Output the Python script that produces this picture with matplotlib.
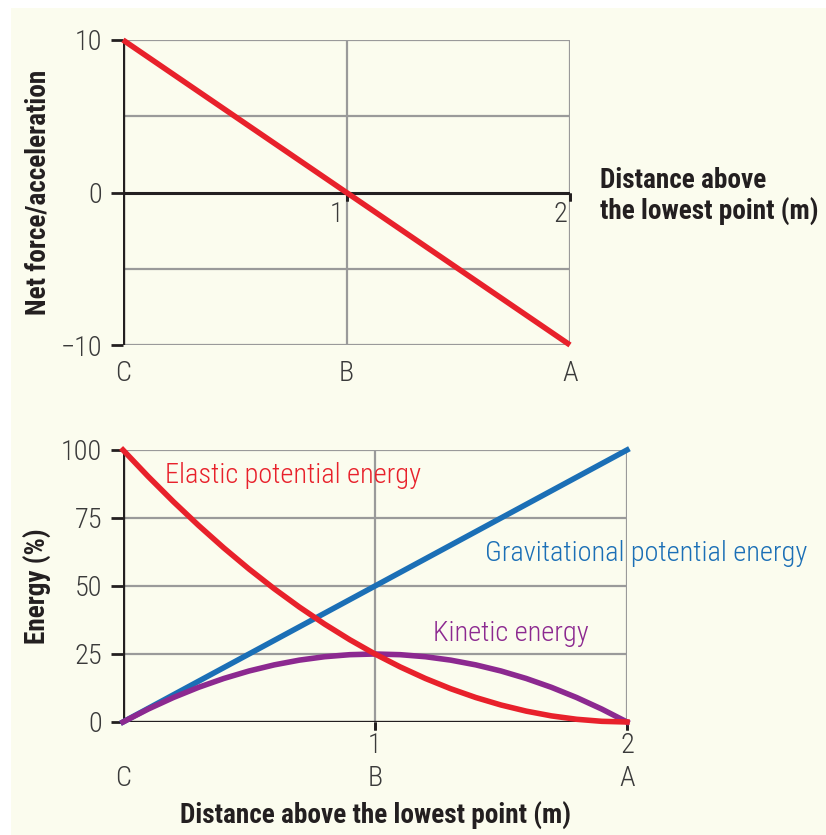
import matplotlib
matplotlib.use("Agg")
import matplotlib.pyplot as plt
from matplotlib import font_manager
from matplotlib.patches import Rectangle

# ---- data ----
# top panel: net force / acceleration vs distance above lowest point
force_x = [0, 2]
force_y = [10, -10]
force_yticks = [10, 0, -10]
force_ytick_labels = ['10', '0', '\u221210']
force_grid_y = [5, -5, -10, 10]

# bottom panel: energy shares (%) vs distance
dist = [0.0, 0.1, 0.2, 0.3, 0.4, 0.5, 0.6, 0.7, 0.8, 0.9, 1.0,
        1.1, 1.2, 1.3, 1.4, 1.5, 1.6, 1.7, 1.8, 1.9, 2.0]
elastic = [100, 90.25, 81, 72.25, 64, 56.25, 49, 42.25, 36, 30.25, 25,
           20.25, 16, 12.25, 9, 6.25, 4, 2.25, 1, 0.25, 0]
kinetic = [0, 4.75, 9, 12.75, 16, 18.75, 21, 22.75, 24, 24.75, 25,
           24.75, 24, 22.75, 21, 18.75, 16, 12.75, 9, 4.75, 0]
grav_x = [0, 2]
grav_y = [0, 100]
energy_yticks = [0, 25, 50, 75, 100]

x_ticks = [1, 2]
point_pos = [0, 1, 2]
point_names = ['C', 'B', 'A']

# ---- fonts: prefer a narrow sans if one is installed ----
names = {f.name for f in font_manager.fontManager.ttflist}
family = 'Liberation Sans' if 'Liberation Sans' in names else 'DejaVu Sans'
for cand in ['Liberation Sans Narrow', 'Roboto Condensed', 'Arial Narrow']:
    if cand in names:
        family = cand
        break
plt.rcParams['font.family'] = [family, 'DejaVu Sans']

# ---- style ----
BG = '#fbfcee'
RED = '#e8212b'
BLUE = '#1b6fb6'
PURPLE = '#8c2990'
GRID = '#9a9a9a'
INK = '#231f20'
TICK_TXT = '#3a3a3a'
LW = 4.0
TXT_W = 'light'

fig = plt.figure(figsize=(8.26, 8.35), dpi=100)
fig.patch.set_facecolor('white')
fig.add_artist(Rectangle((11 / 826, 0), 1 - 11 / 826, 1 - 8 / 835,
                         transform=fig.transFigure, facecolor=BG,
                         edgecolor='none', zorder=-10))

# size text so that the long labels have the intended widths
renderer = fig.canvas.get_renderer()


def fit_size(s, width_px, weight='normal', base=18):
    t = fig.text(0, 0, s, fontsize=base, fontweight=weight)
    w = t.get_window_extent(renderer).width
    t.remove()
    return base * width_px / w


tick_fs = min(22, fit_size('Gravitational potential energy', 323, TXT_W))
lab_fs = min(20, fit_size('Distance above the lowest point (m)', 391, 'bold'))


def base_axes(rect):
    ax = fig.add_axes(rect)
    ax.set_facecolor('none')
    for s in ax.spines.values():
        s.set_visible(False)
    ax.tick_params(axis='x', bottom=False, labelbottom=False)
    ax.tick_params(axis='y', length=9, width=2, color=INK,
                   labelsize=tick_fs, labelcolor=TICK_TXT, pad=6)
    return ax


# ---- top panel ----
ax1 = base_axes([123 / 826, 1 - 345 / 835, (570 - 123) / 826, (345 - 40) / 835])
ax1.set_xlim(0, 2)
ax1.set_ylim(-10, 10)
for gy in force_grid_y:
    ax1.axhline(gy, color=GRID, lw=1.6, zorder=1)
for gx in x_ticks:
    ax1.axvline(gx, color=GRID, lw=1.6, zorder=1)
ax1.axhline(0, color=INK, lw=2.2, zorder=2)
ax1.axvline(0, color=INK, lw=2.4, zorder=2)
for gx in x_ticks:
    ax1.plot([gx, gx], [0, 0], marker=3, markersize=6, mew=2, color=INK,
             zorder=3, clip_on=False)
    ax1.annotate(str(gx), xy=(gx, 0), xycoords='data', xytext=(-2, -6),
                 textcoords='offset points', ha='right', va='top',
                 fontsize=tick_fs, color=TICK_TXT, fontweight=TXT_W)
ax1.set_yticks(force_yticks)
ax1.set_yticklabels(force_ytick_labels, fontweight=TXT_W)
ax1.plot(force_x, force_y, color=RED, lw=LW, zorder=4, clip_on=False,
         solid_capstyle='butt')
for p, n in zip(point_pos, point_names):
    ax1.annotate(n, xy=(p, 0), xycoords=('data', 'axes fraction'),
                 xytext=(0, -11), textcoords='offset points', ha='center',
                 va='top', fontsize=tick_fs, color=TICK_TXT, fontweight=TXT_W)
ax1.set_ylabel('Net force/acceleration', fontsize=lab_fs, fontweight='bold',
               color=INK)
ax1.text(1.067, 0.487, 'Distance above\nthe lowest point (m)',
         transform=ax1.transAxes, ha='left', va='center', fontsize=lab_fs,
         fontweight='bold', color=INK, linespacing=1.2)

# ---- bottom panel ----
ax2 = base_axes([123 / 826, 1 - 722 / 835, (627 - 123) / 826, (722 - 450) / 835])
ax2.set_xlim(0, 2)
ax2.set_ylim(0, 100)
for gy in energy_yticks[1:]:
    ax2.axhline(gy, color=GRID, lw=1.6, zorder=1)
for gx in x_ticks:
    ax2.axvline(gx, color=GRID, lw=1.6, zorder=1)
ax2.axhline(0, color=INK, lw=2.4, zorder=2)
ax2.axvline(0, color=INK, lw=2.4, zorder=2)
ax2.set_yticks(energy_yticks)
ax2.set_yticklabels([str(v) for v in energy_yticks], fontweight=TXT_W)
for gx in x_ticks:
    ax2.plot([gx, gx], [0, 0], marker=3, markersize=6, mew=2, color=INK,
             zorder=3, clip_on=False)
    ax2.annotate(str(gx), xy=(gx, 0), xycoords='data', xytext=(0, -7),
                 textcoords='offset points', ha='center', va='top',
                 fontsize=tick_fs, color=TICK_TXT, fontweight=TXT_W)
for p, n in zip(point_pos, point_names):
    ax2.annotate(n, xy=(p, 0), xycoords='data', xytext=(0, -31),
                 textcoords='offset points', ha='center', va='top',
                 fontsize=tick_fs, color=TICK_TXT, fontweight=TXT_W)

ax2.plot(grav_x, grav_y, color=BLUE, lw=LW, zorder=4, clip_on=False)
ax2.plot(dist, kinetic, color=PURPLE, lw=LW, zorder=5, clip_on=False)
ax2.plot(dist, elastic, color=RED, lw=LW, zorder=6, clip_on=False)

ax2.text(0.165, 90.5, 'Elastic potential energy', fontsize=tick_fs, color=RED,
         ha='left', va='center', fontweight=TXT_W)
ax2.text(1.435, 62.0, 'Gravitational potential energy', fontsize=tick_fs,
         color=BLUE, ha='left', va='center', clip_on=False, fontweight=TXT_W)
ax2.text(1.23, 32.5, 'Kinetic energy', fontsize=tick_fs, color=PURPLE,
         ha='left', va='center', fontweight=TXT_W)

ax2.set_ylabel('Energy (%)', fontsize=lab_fs, fontweight='bold', color=INK)
ax2.set_xlabel('Distance above the lowest point (m)', fontsize=lab_fs,
               fontweight='bold', color=INK)
ax2.xaxis.set_label_coords(0.5, -0.295)
ax1.yaxis.set_label_coords(-0.159, 0.5)
ax2.yaxis.set_label_coords(-0.141, 0.5)

fig.savefig('out.png', dpi=100, facecolor=fig.get_facecolor())
